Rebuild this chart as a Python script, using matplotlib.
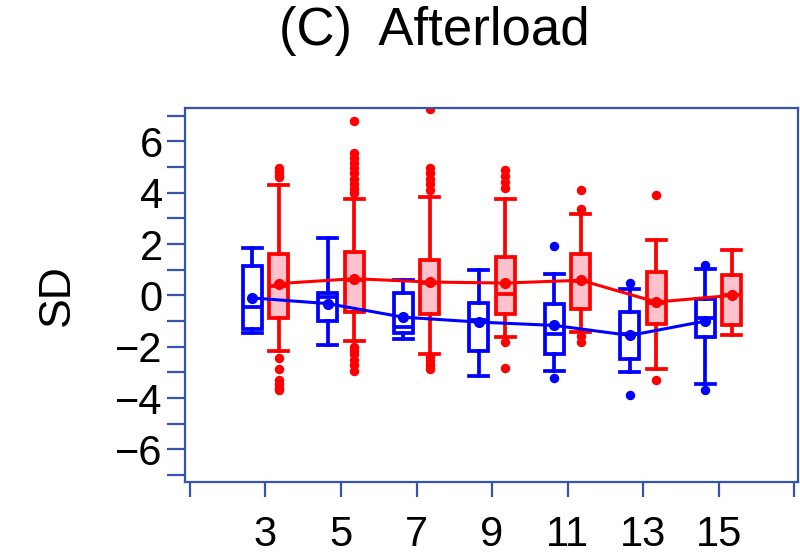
import matplotlib
matplotlib.use('Agg')
import matplotlib.pyplot as plt

# ---------------- data ----------------
groups = [3, 5, 7, 9, 11, 13, 15]

blue_whislo = [-1.45, -1.95, -1.70, -3.16, -2.93, -3.00, -3.45]
blue_q1     = [-1.30, -0.98, -1.45, -2.15, -2.30, -2.47, -1.63]
blue_med    = [-0.45, -0.05, -1.25, -0.94, -1.50, -1.50, -0.90]
blue_q3     = [1.15, 0.10, 0.09, -0.30, -0.33, -0.65, -0.13]
blue_whishi = [1.86, 2.25, 0.59, 0.98, 0.82, 0.26, 1.04]
blue_mean   = [-0.10, -0.32, -0.85, -1.04, -1.17, -1.56, -1.00]
blue_fliers = [[], [], [], [], [1.93, -3.22], [0.50, -3.90], [1.17, -3.68]]

red_whislo = [-2.15, -1.78, -2.28, -1.63, -1.43, -2.86, -1.56]
red_q1     = [-0.90, -0.65, -0.72, -0.72, -0.52, -1.10, -1.17]
red_med    = [0.35, 0.60, 0.50, 0.06, 0.55, -0.30, 0.00]
red_q3     = [1.60, 1.69, 1.39, 1.50, 1.63, 0.91, 0.78]
red_whishi = [4.30, 3.74, 3.82, 3.74, 3.19, 2.15, 1.78]
red_mean   = [0.46, 0.65, 0.52, 0.48, 0.59, -0.26, 0.00]
red_fliers = [
    [4.60, 4.70, 4.80, 4.95, -2.43, -2.86, -3.30, -3.45, -3.60, -3.70],
    [6.81, 5.53, 5.35, 5.15, 4.95, 4.75, 4.55, 4.35, 4.15, 3.97,
     -2.00, -2.15, -2.30, -2.50, -2.70, -2.93],
    [7.25, 4.95, 4.75, 4.55, 4.35, 4.10, -2.40, -2.55, -2.70, -2.86],
    [4.88, 4.65, 4.40, 4.20, -1.82, -2.83],
    [4.10, 3.35, -1.60, -1.82],
    [3.93, -3.30],
    [],
]

x_ticks = [1, 3, 5, 7, 9, 11, 13, 15, 17]
x_labels = ['', '3', '5', '7', '9', '11', '13', '15', '']
y_ticks = list(range(-7, 8))
y_labels = ['' if v % 2 else f'{v}'.replace('-', '\u2212') for v in y_ticks]

title = '(C)  Afterload'
ylabel = 'SD'

# ---------------- style ----------------
plt.rcParams['font.family'] = ['Liberation Sans', 'DejaVu Sans']
BLUE = '#0000FF'
RED = '#FF0000'
PINK = '#FFC2CC'
FRAME = '#3454AE'
offset = 0.35
bw = 0.5
lw = 2.7

fig = plt.figure(figsize=(8, 5.57), dpi=100)
ax = fig.add_axes([185 / 800, 1 - 482 / 557, (798 - 185) / 800, (482 - 108) / 557])


def make_stats(lo, q1, med, q3, hi, fl):
    return [dict(whislo=a, q1=b, med=c, q3=d, whishi=e, fliers=f)
            for a, b, c, d, e, f in zip(lo, q1, med, q3, hi, fl)]


def draw(stats, pos, color, face, means):
    ax.bxp(stats, positions=pos, widths=bw, capwidths=bw, patch_artist=True,
           showfliers=True,
           boxprops=dict(facecolor=face, edgecolor=color, linewidth=lw),
           whiskerprops=dict(color=color, linewidth=lw),
           capprops=dict(color=color, linewidth=lw),
           medianprops=dict(color=color, linewidth=lw),
           flierprops=dict(marker='o', markerfacecolor=color, markeredgecolor=color,
                           markersize=5.8, linestyle='none'),
           manage_ticks=False, zorder=2)
    ax.plot(pos, means, color=color, linewidth=2.2, marker='o', markersize=7,
            zorder=4)


blue_pos = [g - offset for g in groups]
red_pos = [g + offset for g in groups]

draw(make_stats(blue_whislo, blue_q1, blue_med, blue_q3, blue_whishi, blue_fliers),
     blue_pos, BLUE, 'white', blue_mean)
draw(make_stats(red_whislo, red_q1, red_med, red_q3, red_whishi, red_fliers),
     red_pos, RED, PINK, red_mean)

ax.set_xlim(0.87, 17.1)
ax.set_ylim(-7.27, 7.3)
ax.set_xticks(x_ticks)
ax.set_xticklabels(x_labels)
ax.set_yticks(y_ticks)
ax.set_yticklabels(y_labels)

for s in ax.spines.values():
    s.set_color(FRAME)
    s.set_linewidth(1.6)

ax.tick_params(axis='y', direction='out', length=13, width=1.6, color=FRAME,
               labelsize=30, pad=3, labelcolor='black')
ax.tick_params(axis='x', direction='out', length=11, width=1.6, color=FRAME,
               labelsize=30, pad=13, labelcolor='black')

fig.text(57 / 800, 1 - 295 / 557, ylabel, rotation=90, fontsize=32,
         ha='center', va='center')
fig.text(434 / 800, 1 - 31 / 557, title, fontsize=38, ha='center', va='center')

fig.savefig('out.png', dpi=100)
